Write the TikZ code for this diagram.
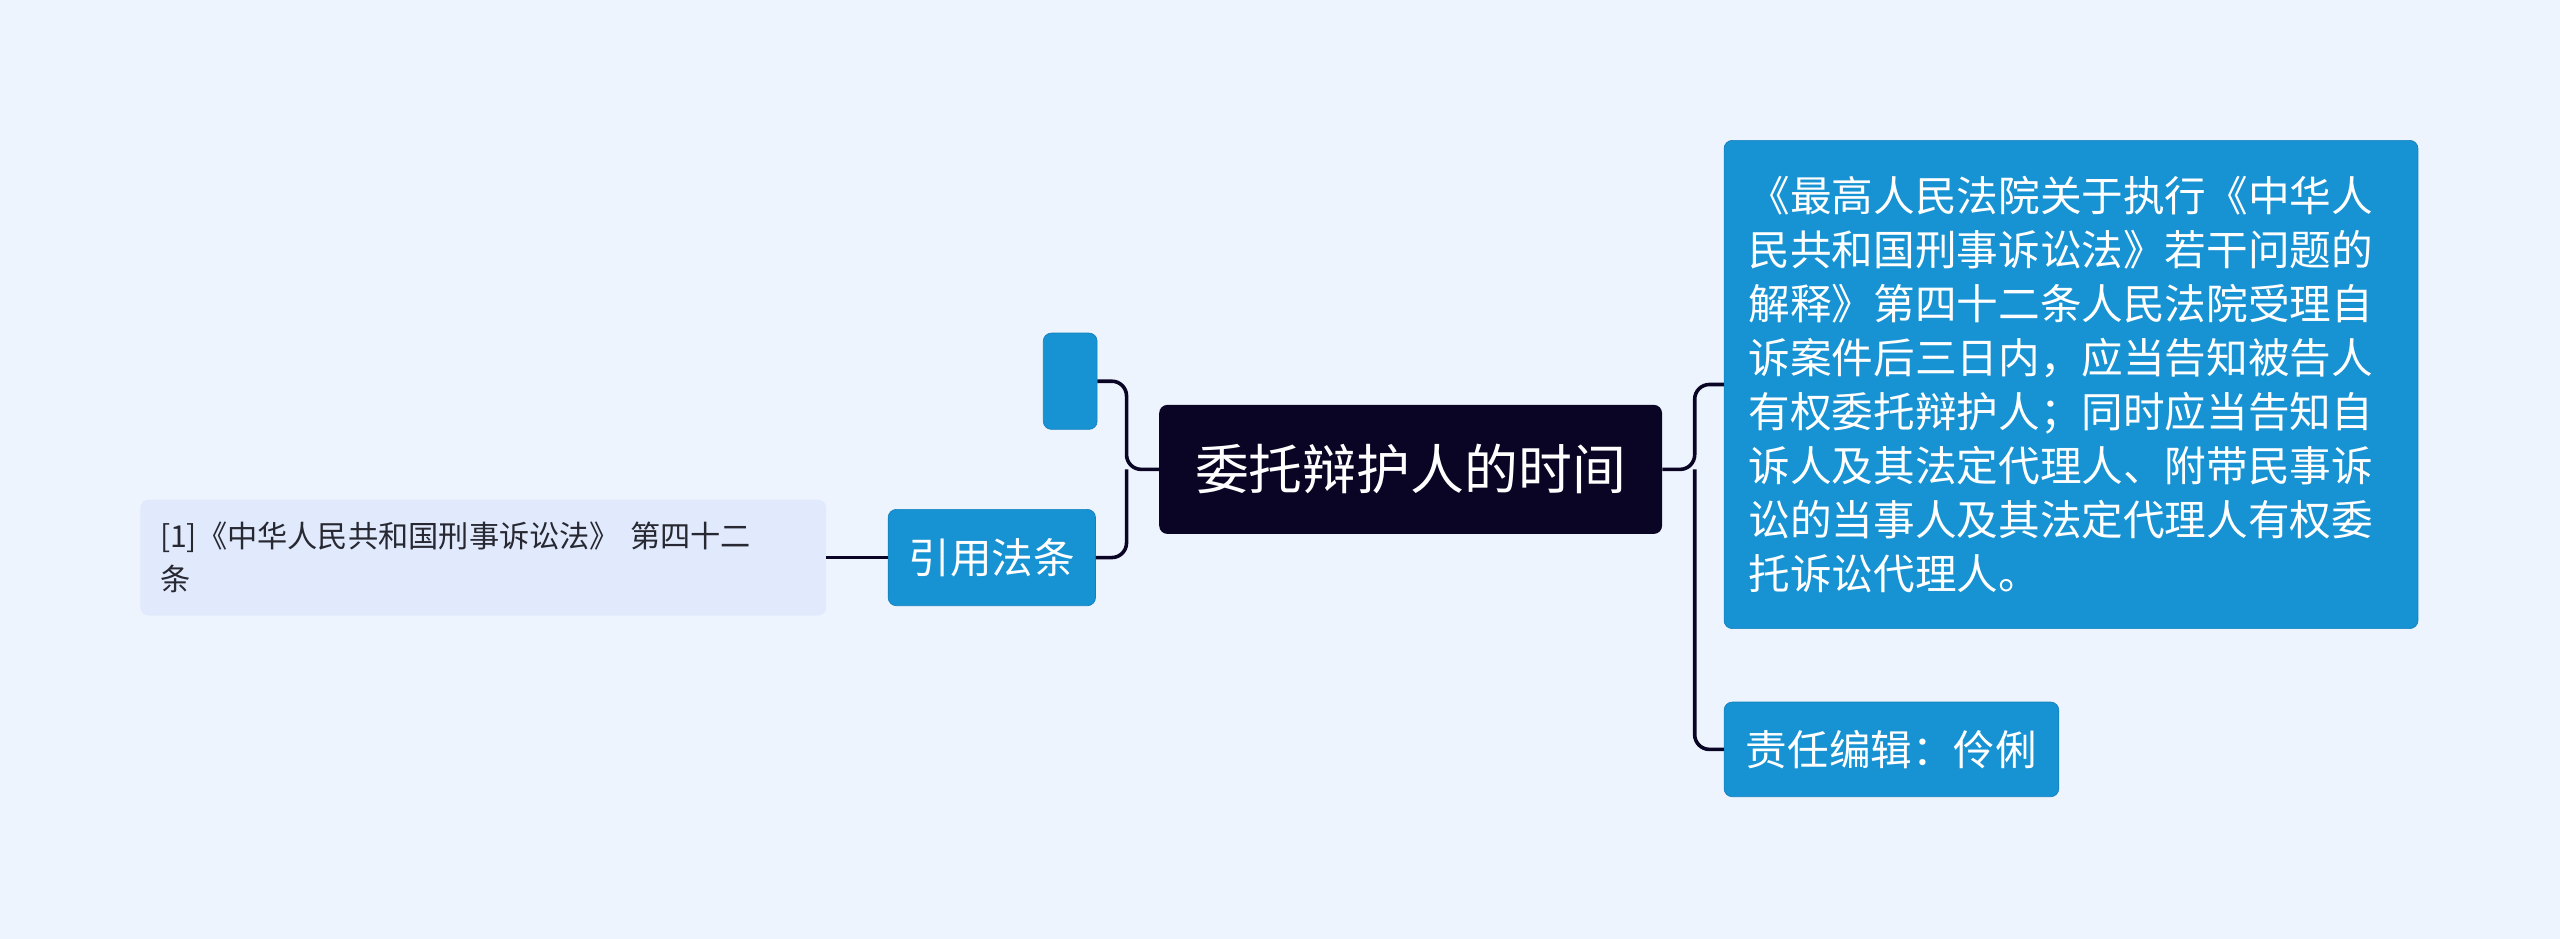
\documentclass[tikz,border=0pt]{standalone}
\usepackage{fontspec}
\setmainfont{Noto Sans CJK SC}
\definecolor{bg}{RGB}{238,244,254}
\definecolor{navy}{RGB}{10,5,36}
\definecolor{bl}{RGB}{23,146,210}
\definecolor{bld}{RGB}{18,128,190}
\definecolor{lt}{RGB}{224,234,252}
\definecolor{tx}{RGB}{40,40,50}
\begin{document}
\begin{tikzpicture}[x=1pt,y=-1pt,
  box/.style={rounded corners=5pt,inner sep=0pt,align=left},
  blue/.style={box,fill=bl,draw=bld,text=white},
  con/.style={draw=navy,line width=2.2pt,rounded corners=9pt}]
\fill[bg] (0,0) rectangle (1568,575);
\node[box,fill=navy,text=white,minimum width=308pt,minimum height=79pt,font=\fontsize{33}{40}\selectfont,align=center] (c) at (864,287.5) {委托辩护人的时间};
\node[blue,minimum width=425pt,minimum height=299pt,text width=395pt,font=\fontsize{25.5}{33}\selectfont] (r1) at (1268.5,235.5) {《最高人民法院关于执行《中华人\\民共和国刑事诉讼法》若干问题的\\解释》第四十二条人民法院受理自\\诉案件后三日内，应当告知被告人\\有权委托辩护人；同时应当告知自\\诉人及其法定代理人、附带民事诉\\讼的当事人及其法定代理人有权委\\托诉讼代理人。};
\node[blue,minimum width=205pt,minimum height=58pt,font=\fontsize{25.5}{30}\selectfont,align=center] (r2) at (1158.5,459) {责任编辑：伶俐};
\node[blue,minimum width=127pt,minimum height=59pt,font=\fontsize{25.5}{30}\selectfont,align=center] (l1) at (607.5,341.5) {引用法条};
\node[blue,minimum width=33pt,minimum height=59pt] (l0) at (655.5,233.5) {};
\node[box,fill=lt,minimum width=420pt,minimum height=71pt,text width=396pt,font=\fontsize{18.5}{26}\selectfont,text=tx] (ll) at (296,341.5) {[1]《中华人民共和国刑事诉讼法》 第四十二\\条};
\path[con] (c.east) -- (1038,287.5) |- (r1.west);
\path[con] (1038,287.5) |- (r2.west);
\path[con] (c.west) -- (690,287.5) |- (l0.east);
\path[con] (690,287.5) |- (l1.east);
\path[con] (l1.west) -- (ll.east);
\end{tikzpicture}
\end{document}
